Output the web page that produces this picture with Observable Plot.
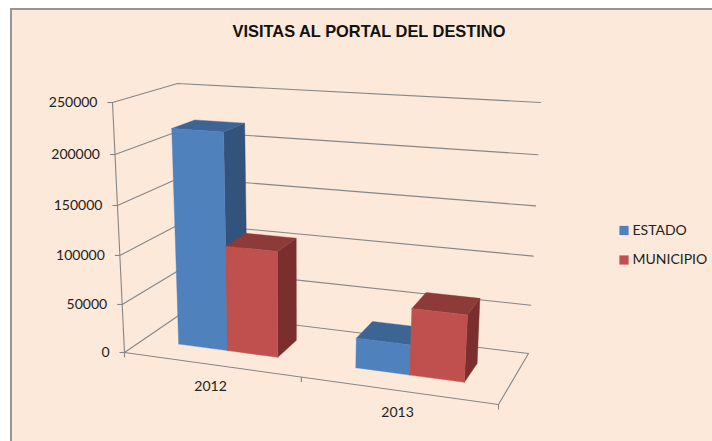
<!DOCTYPE html>
<html><head><meta charset="utf-8">
<script src="https://cdn.jsdelivr.net/npm/d3@7"></script>
<script src="https://cdn.jsdelivr.net/npm/@observablehq/plot@0.6"></script>
<style>
html,body{margin:0;padding:0;background:#fff;}
#frame{position:absolute;left:10px;top:8px;width:702px;height:433px;box-sizing:border-box;background:#FDE9D9;border-left:2px solid #969696;border-top:2px solid #969696;}
#chart{position:absolute;left:0;top:0;width:712px;height:441px;}
svg{display:block;}
</style></head><body>
<div id="frame"></div><div id="chart"></div>
<script>
// ---- data
const title = "VISITAS AL PORTAL DEL DESTINO";
const categories = ["2012", "2013"];
const seriesNames = ["ESTADO", "MUNICIPIO"];
const estado = [221000, 30000];
const municipio = [108000, 66000];
const yTicks = [0, 50000, 100000, 150000, 200000, 250000];

// ---- styles and layout of the 3D box
const vMax = 250000;
const persp = 0.0485;
const colors = {
  ESTADO: {front:"#4F81BD", top:"#3D6594", side:"#32537C"},
  MUNICIPIO: {front:"#C0504D", top:"#8E3A38", side:"#7A2E2D"}
};
const corners = {
  f0b:[124,352], f1b:[498,404], b0b:[184,311], b1b:[528,353],
  f0t:[112,102], f1t:[515,128], b0t:[177,83],  b1t:[540,102]
};
const lerp = (a,b,t)=>a+(b-a)*t;
function project(u,v,w){
  const s=v/vMax, t=s*(1-persp)/(1-persp*s), out=[0,1].map(i=>{
    const bot=lerp(lerp(corners.f0b[i],corners.f1b[i],u),lerp(corners.b0b[i],corners.b1b[i],u),w);
    const top=lerp(lerp(corners.f0t[i],corners.f1t[i],u),lerp(corners.b0t[i],corners.b1t[i],u),w);
    return lerp(bot,top,t);
  });
  return {x:out[0],y:out[1]};
}
const bands = {"2012":[[.096,.23],[.23,.368]], "2013":[[.582,.73],[.73,.88]]};
const w0=.32, w1=.70;

// ---- polygons built from the data
const poly=(id,fill,pts)=>pts.concat([pts[0]]).map(p=>({...p,id,fill}));
let faces=[];
categories.forEach((c,ci)=>{
  [estado,municipio].forEach((vals,si)=>{
    const [u0,u1]=bands[c][si], v=vals[ci], col=colors[seriesNames[si]], id=c+seriesNames[si];
    faces.push(poly(id+"s",col.side,[project(u1,0,w0),project(u1,v,w0),project(u1,v,w1),project(u1,0,w1)]));
    faces.push(poly(id+"t",col.top,[project(u0,v,w0),project(u1,v,w0),project(u1,v,w1),project(u0,v,w1)]));
    faces.push(poly(id+"f",col.front,[project(u0,0,w0),project(u1,0,w0),project(u1,v,w0),project(u0,v,w0)]));
  });
});
const faceMarks=faces.map(f=>Plot.line(f,{x:"x",y:"y",z:"id",fill:f[0].fill,stroke:f[0].fill,strokeWidth:.4}));

// ---- grid and axes
const grid=yTicks.flatMap(v=>[project(0,v,0),project(0,v,1),project(1,v,1)].map(p=>({...p,id:"g"+v})));
const floor=[project(0,0,0),project(1,0,0),project(1,0,1)].map(p=>({...p,id:"floor"}));
const axisY=[project(0,0,0),project(0,vMax,0)].map(p=>({...p,id:"axis"}));
const yLabels=yTicks.map(v=>({...project(0,v,0),v}));
const xTicks=[0,.473,1].map(u=>project(u,0,0));
const xLabels=categories.map((c,i)=>({...project(.23+i*.5,0,0),c}));
const lineColor="#868686";

const legend=seriesNames.map((s,i)=>({s,y:230+i*29.5,fill:colors[s].front}));

const font="Lato, sans-serif";
const chart=Plot.plot({
  width:712,height:441,margin:0,
  style:{background:"transparent",overflow:"visible"},
  x:{axis:null,domain:[0,712],range:[0,712]},
  y:{axis:null,domain:[0,441],range:[0,441]},
  marks:[
    Plot.line(grid,{x:"x",y:"y",z:"id",stroke:lineColor,strokeWidth:1.1}),
    Plot.line(floor,{x:"x",y:"y",z:"id",stroke:lineColor,strokeWidth:1.1}),
    Plot.line(axisY,{x:"x",y:"y",z:"id",stroke:lineColor,strokeWidth:1.1}),
    Plot.link(yLabels,{x1:d=>d.x-5,y1:"y",x2:"x",y2:"y",stroke:lineColor,strokeWidth:1.1}),
    Plot.link(xTicks,{x1:"x",y1:"y",x2:"x",y2:d=>d.y+5,stroke:lineColor,strokeWidth:1.1}),
    ...faceMarks,
    Plot.text(yLabels,{x:d=>d.x-15,y:"y",text:d=>String(d.v),textAnchor:"end",fontFamily:font,fontSize:14,fill:"#222"}),
    Plot.text(xLabels,{x:"x",y:d=>d.y+22.5,text:"c",fontFamily:font,fontSize:14,fill:"#222"}),
    Plot.text([title],{x:()=>368.5,y:()=>31,text:d=>d,fontFamily:"Liberation Sans, Arial, sans-serif",fontWeight:"bold",fontSize:16.4,fill:"#111"}),
    Plot.dot(legend,{x:()=>623.5,y:"y",symbol:"square",r:5.2,fill:"fill"}),
    Plot.text(legend,{x:()=>632,y:"y",text:"s",textAnchor:"start",fontFamily:font,fontSize:14,fill:"#222"})
  ]
});
document.getElementById("chart").appendChild(chart);
</script>
</body></html>
